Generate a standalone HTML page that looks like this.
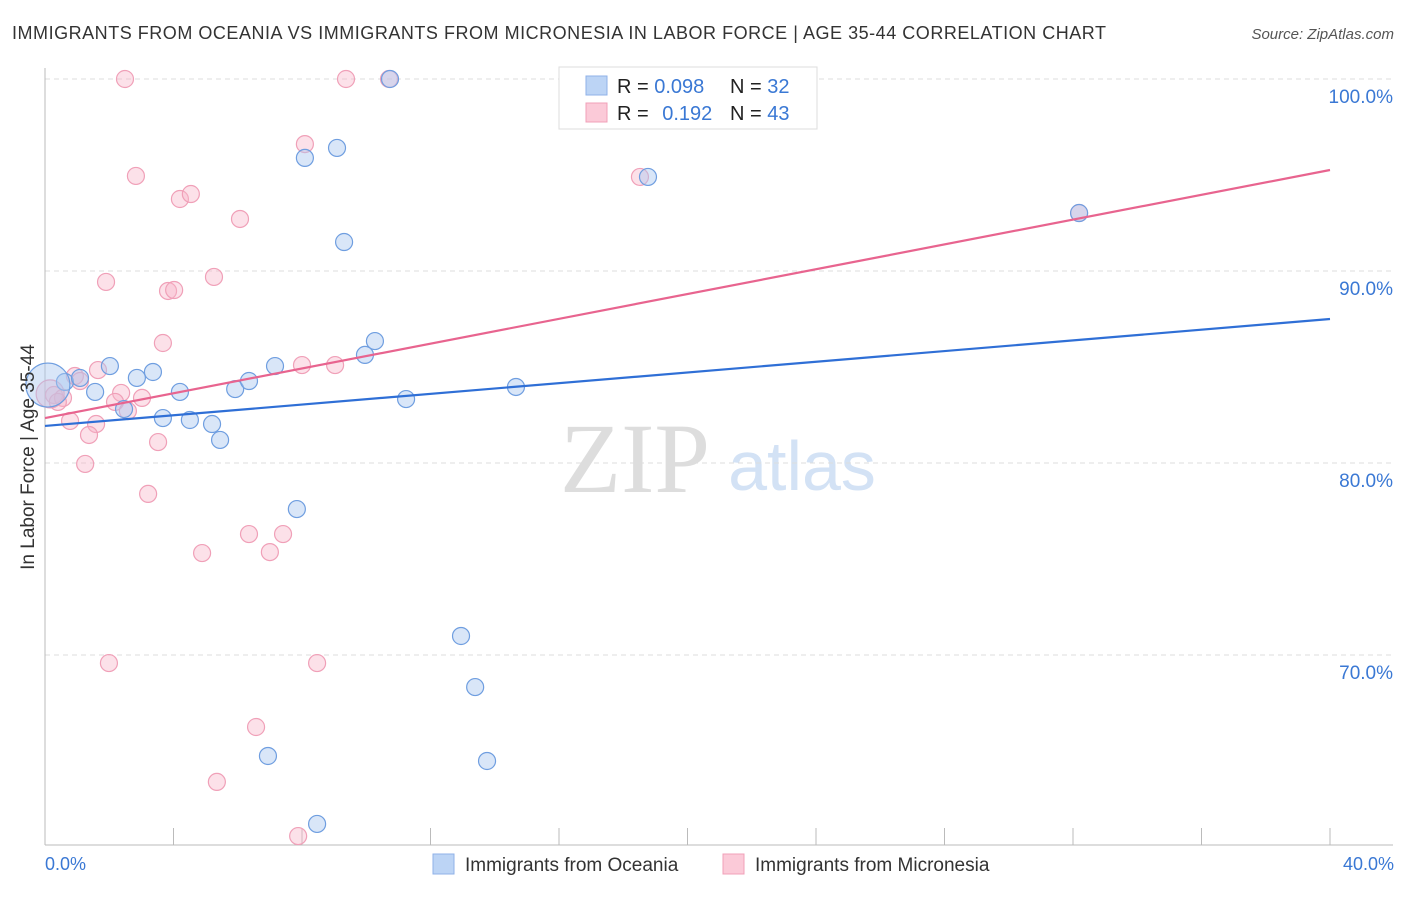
<!DOCTYPE html>
<html><head><meta charset="utf-8"><style>
body{margin:0;background:#fff;font-family:"Liberation Sans",sans-serif;}
</style></head><body>
<svg id="chart" width="1406" height="892" xmlns="http://www.w3.org/2000/svg" font-family="Liberation Sans, sans-serif">
<text x="12" y="39" font-size="18" fill="#333" textLength="1094">IMMIGRANTS FROM OCEANIA VS IMMIGRANTS FROM MICRONESIA IN LABOR FORCE | AGE 35-44 CORRELATION CHART</text>
<text x="1394" y="39" font-size="15" fill="#555" font-style="italic" text-anchor="end">Source: ZipAtlas.com</text>
<text x="635" y="492" font-size="100" fill="#ddd" style="font-family:'Liberation Serif',serif" text-anchor="middle">ZIP</text>
<text x="802" y="490" font-size="70" fill="#d3e2f5" text-anchor="middle">atlas</text>
<g id="grid"></g><g id="axes"></g><g id="pts"></g><g id="lines"></g>
<text transform="translate(34,457) rotate(-90)" font-size="19" fill="#333" text-anchor="middle">In Labor Force | Age 35-44</text>
<text x="45" y="870" font-size="18" fill="#3a78d4">0.0%</text>
<text x="1394" y="870" font-size="18" fill="#3a78d4" text-anchor="end">40.0%</text>
<g>
<rect x="559" y="67" width="258" height="62" fill="#fff" stroke="#ddd"/>
<rect x="586" y="76" width="21" height="19" fill="#bcd4f5" stroke="#8fb2e8"/>
<rect x="586" y="103" width="21" height="19" fill="#fbcad8" stroke="#f0a0b8"/>
<text x="617" y="93" font-size="20" fill="#222">R = <tspan fill="#3a78d4">0.098</tspan></text>
<text x="730" y="93" font-size="20" fill="#222">N = <tspan fill="#3a78d4">32</tspan></text>
<text x="617" y="120" font-size="20" fill="#222">R = <tspan fill="#3a78d4" dx="8">0.192</tspan></text>
<text x="730" y="120" font-size="20" fill="#222">N = <tspan fill="#3a78d4">43</tspan></text>
</g>
<g>
<rect x="433" y="854" width="21" height="20" fill="#bcd4f5" stroke="#8fb2e8"/>
<text x="465" y="871" font-size="19" fill="#333">Immigrants from Oceania</text>
<rect x="723" y="854" width="21" height="20" fill="#fbcad8" stroke="#f0a0b8"/>
<text x="755" y="871" font-size="19" fill="#333">Immigrants from Micronesia</text>
</g>
</svg>
<script>
const yTicks=[100,90,80,70];
const xTicks=[0,4,8,12,16,20,24,28,32,36,40];
const blueX=[0.62,1.56,2.02,2.86,3.36,2.46,4.20,3.67,4.51,5.20,5.45,5.92,6.35,7.16,7.84,8.09,9.09,9.31,9.96,10.27,10.74,11.24,12.95,13.39,13.76,14.66,18.77,32.19,6.94,8.47,0.09,1.09];
const blueY=[84.22,83.70,85.05,84.43,84.74,82.81,83.70,82.34,82.24,82.03,81.20,83.85,84.27,85.05,77.60,95.89,96.41,91.51,85.63,86.35,100,83.33,70.99,68.33,64.48,83.96,94.90,93.02,64.74,61.20,84.06,84.43];
const pinkX=[2.49,9.37,10.71,2.83,8.09,18.52,4.20,4.54,6.07,1.90,5.26,3.83,4.02,3.67,8.00,9.03,1.65,0.93,1.09,0.28,0.56,2.37,3.02,2.18,2.58,0.40,0.78,1.59,1.37,3.52,1.25,3.21,6.35,7.41,4.89,7.00,1.99,8.47,6.57,5.35,7.88,32.19,0.16];
const pinkY=[100,100,100,94.95,96.61,94.90,93.75,94.01,92.71,89.43,89.69,88.96,89.01,86.25,85.10,85.10,84.84,84.53,84.27,83.54,83.39,83.65,83.39,83.18,82.71,83.18,82.19,82.03,81.46,81.09,79.95,78.39,76.30,76.30,75.31,75.36,69.58,69.58,66.25,63.39,60.57,93.02,83.6];
const blueTrend=[81.93,87.5];
const pinkTrend=[82.34,95.26];
const NS="http://www.w3.org/2000/svg";
const xs=v=>45+v*32.125;
const ys=v=>79+(100-v)*19.2;
function mk(t,a,p){const e=document.createElementNS(NS,t);for(const k in a)e.setAttribute(k,a[k]);document.getElementById(p).appendChild(e);return e;}
yTicks.forEach(t=>{
 const l=mk('line',{x1:45,x2:1393,y1:ys(t),y2:ys(t),stroke:'#ddd','stroke-dasharray':'5,4'},'grid');
 
 
 const tx=mk('text',{x:1393,y:ys(t)+24,'font-size':19,fill:'#3a78d4','text-anchor':'end'},'grid');
 tx.textContent=t.toFixed(1)+'%';
 
 
});
let a=mk('line',{x1:45,x2:45,y1:68,y2:845,stroke:'#bbb'},'axes');


a=mk('line',{x1:45,x2:1393,y1:845,y2:845,stroke:'#bbb'},'axes');


xTicks.forEach(t=>{
 const l=mk('line',{x1:xs(t),x2:xs(t),y1:828,y2:845,stroke:'#bbb'},'axes');
 
 
});
pinkX.forEach((x,i)=>{
 const big=i===pinkX.length-1;
 const c=mk('circle',{cx:xs(x),cy:ys(pinkY[i]),r:big?14:8.5,fill:'rgba(248,180,200,0.4)',stroke:'#f0a0b8','stroke-width':1.2},'pts');
 
 
});
blueX.forEach((x,i)=>{
 const big=i===blueX.length-2;
 const c=mk('circle',{cx:xs(x),cy:ys(blueY[i]),r:big?22:8.5,fill:'rgba(170,200,240,0.45)',stroke:'#6f9ee0','stroke-width':1.2},'pts');
 
 
});
let t=mk('line',{x1:xs(0),x2:xs(40),y1:ys(blueTrend[0]),y2:ys(blueTrend[1]),stroke:'#2f6fd6','stroke-width':2.2},'lines');


t=mk('line',{x1:xs(0),x2:xs(40),y1:ys(pinkTrend[0]),y2:ys(pinkTrend[1]),stroke:'#e8648f','stroke-width':2.2},'lines');


</script>
</body></html>
